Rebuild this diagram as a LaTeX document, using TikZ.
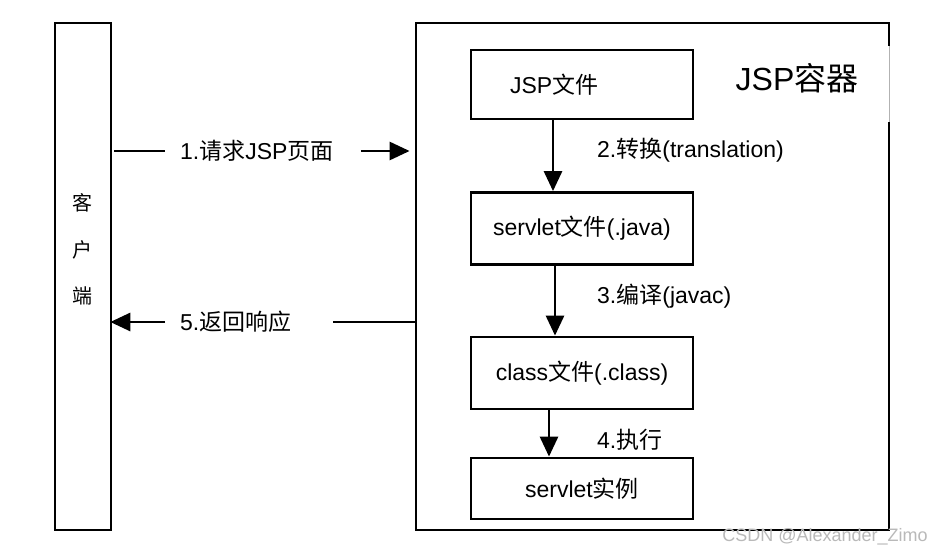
\documentclass[tikz,border=0pt]{standalone}
\usepackage{fontspec}
\setmainfont{Liberation Sans}
\newfontfamily\cjk{Noto Sans CJK SC}
\newcommand{\zh}[1]{{\cjk #1}}
\usetikzlibrary{arrows.meta}
\begin{document}
\begin{tikzpicture}[x=1pt,y=-1pt,
  box/.style={draw, line width=2.8pt, minimum width=222pt, inner sep=0pt},
  lbl/.style={inner sep=0pt, font=\fontsize{23}{25}\selectfont},
  conn/.style={line width=2.8pt},
  arr/.style={line width=2.8pt, -{Triangle[length=20pt,width=18pt]}},
]
\useasboundingbox (0,0) rectangle (945,554);
\fill[white] (0,0) rectangle (945,554);

% client
\node[draw, line width=2.6pt, minimum width=56pt, minimum height=507pt, inner sep=0pt] (client) at (83,276.5) {};
\node[inner sep=0pt, align=center, font=\fontsize{20}{46.5}\selectfont] (clienttext) at (82,249.5) {\zh{客}\\\zh{户}\\\zh{端}};

% container
\node[draw, line width=2.8pt, minimum width=473pt, minimum height=507pt, inner sep=0pt] (container) at (652.5,276.5) {};
\coordinate (gaptop) at (889,46);
\coordinate (gapbot) at (889,122);
\draw[white, line width=4pt] (gaptop) -- (gapbot);
\draw[gray!60, line width=0.6pt] (gaptop) -- (gapbot);
\node[inner sep=0pt, font=\fontsize{32}{34}\selectfont] (title) at (797,78) {JSP\zh{容器}};

% boxes
\node[box, minimum height=69pt, text width=144pt, inner xsep=39pt, align=left, font=\fontsize{23}{25}\selectfont] (jsp) at (582,84.5) {JSP\zh{文件}};
\node[box, minimum height=72pt, font=\fontsize{23}{25}\selectfont] (srv) at (582,228.5) {servlet\zh{文件}(.java)};
\node[box, minimum height=72pt, font=\fontsize{23}{25}\selectfont] (cls) at (582,373) {class\zh{文件}(.class)};
\node[box, minimum height=61pt, font=\fontsize{23}{25}\selectfont] (inst) at (582,488.5) {servlet\zh{实例}};

% vertical arrows
\coordinate (v1) at (553,0);
\coordinate (v2) at (555,0);
\coordinate (v3) at (549,0);
\draw[arr] (jsp.south -| v1) -- (srv.north -| v1);
\draw[arr] (srv.south -| v2) -- (cls.north -| v2);
\draw[arr] (cls.south -| v3) -- (inst.north -| v3);

\node[lbl, anchor=west] (l2) at (597,150) {2.\zh{转换}(translation)};
\node[lbl, anchor=west] (l3) at (597,296) {3.\zh{编译}(javac)};
\node[lbl, anchor=west] (l4) at (597,440) {4.\zh{执行}};

% horizontal arrows
\node[lbl, anchor=west] (l1) at (180,151) {1.\zh{请求}JSP\zh{页面}};
\node[lbl, anchor=west] (l5) at (180,322) {5.\zh{返回响应}};
\draw[conn] ([xshift=2pt]client.east |- l1) -- ([xshift=-15pt]l1.west);
\draw[arr, shorten >=5pt] ([xshift=27pt]l1.east) -- (container.west |- l1);
\draw[conn] ([xshift=2pt]container.west |- l5) -- ([xshift=41pt]l5.east);
\draw[arr, shorten >=-2pt] ([xshift=-15pt]l5.west) -- (client.east |- l5);

% watermark
\node[inner sep=0pt, text=gray!55, font=\fontsize{18}{20}\selectfont] (wm) at (825,537) {CSDN @Alexander\_Zimo};
\end{tikzpicture}
\end{document}
